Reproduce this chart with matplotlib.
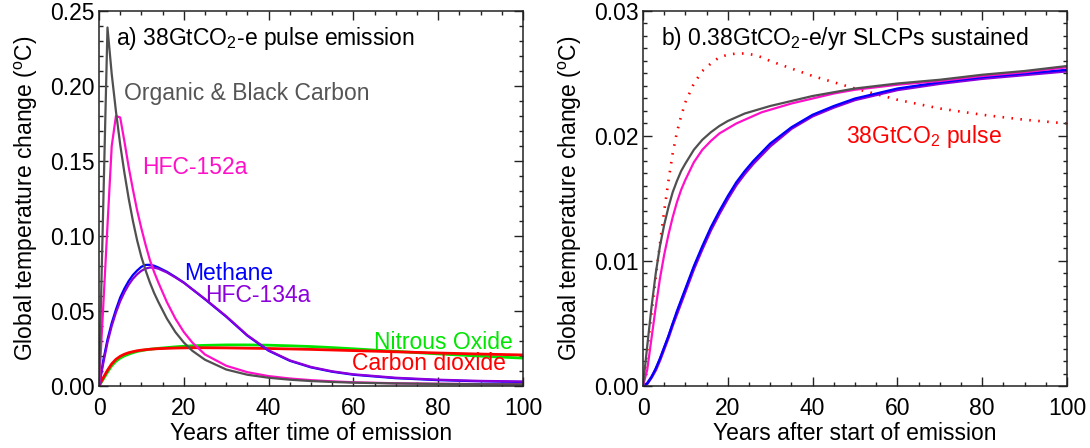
import matplotlib
matplotlib.use("Agg")
import matplotlib.pyplot as plt
from matplotlib.ticker import MultipleLocator, FormatStrFormatter

plt.rcParams['font.family'] = ['Liberation Sans', 'DejaVu Sans']
plt.rcParams['mathtext.default'] = 'regular'

# ---------------- Panel a: pulse emission ----------------
years_a = [0, 1, 2, 3, 4, 5, 6, 7, 8, 9, 10, 11, 12, 13, 14, 16, 18, 20, 22, 25,
           30, 35, 40, 45, 50, 55, 60, 70, 80, 90, 100]
obc_pulse = [0, 0.12, 0.239, 0.208, 0.183, 0.161, 0.142, 0.125, 0.110, 0.097, 0.086,
             0.077, 0.069, 0.062, 0.056, 0.045, 0.036, 0.029, 0.0235, 0.0175,
             0.011, 0.0075, 0.0055, 0.0042, 0.0033, 0.0027, 0.0022, 0.0017, 0.0014, 0.0012, 0.0011]
hfc152a_pulse = [0, 0.053, 0.107, 0.160, 0.180, 0.179, 0.163, 0.146, 0.131, 0.117, 0.105,
                 0.094, 0.084, 0.076, 0.069, 0.056, 0.045, 0.036, 0.029, 0.021,
                 0.0135, 0.0092, 0.0066, 0.005, 0.0039, 0.0031, 0.0025, 0.0018, 0.0015, 0.0013, 0.0012]
methane_pulse = [0, 0.017, 0.031, 0.042, 0.051, 0.059, 0.065, 0.070, 0.074, 0.077, 0.0795,
                 0.0807, 0.0808, 0.0802, 0.079, 0.0762, 0.0727, 0.069, 0.0645, 0.0578,
                 0.0462, 0.0335, 0.0235, 0.0168, 0.0124, 0.0095, 0.0075, 0.0052, 0.0039, 0.0031, 0.0027]
hfc134a_pulse = [0, 0.015, 0.029, 0.040, 0.049, 0.0565, 0.0625, 0.0675, 0.0715, 0.0745, 0.0768,
                 0.0783, 0.079, 0.0789, 0.0782, 0.0757, 0.0724, 0.0688, 0.0645, 0.058,
                 0.0465, 0.0338, 0.0238, 0.0171, 0.0127, 0.0098, 0.0078, 0.0055, 0.0042, 0.0034, 0.0030]
n2o_pulse = [0, 0.0045, 0.0092, 0.0135, 0.0165, 0.0186, 0.0201, 0.0212, 0.0222, 0.0230, 0.0236,
             0.0241, 0.0245, 0.0248, 0.0251, 0.0256, 0.0261, 0.0265, 0.0268, 0.0271,
             0.0274, 0.0274, 0.0272, 0.0268, 0.0263, 0.0256, 0.0248, 0.0231, 0.0214, 0.0199, 0.0186]
co2_pulse = [0, 0.0055, 0.0105, 0.0148, 0.0178, 0.0198, 0.0212, 0.0222, 0.0229, 0.0235, 0.0239,
             0.0242, 0.0245, 0.0247, 0.0249, 0.0251, 0.0253, 0.0254, 0.0255, 0.0255,
             0.0254, 0.0252, 0.0250, 0.0247, 0.0244, 0.0240, 0.0236, 0.0228, 0.0220, 0.0213, 0.0207]

# ---------------- Panel b: sustained emission ----------------
years_b = [0, 1, 2, 3, 4, 5, 6, 7, 8, 9, 10, 12, 14, 16, 18, 20, 22, 24, 26, 28, 30,
           35, 40, 45, 50, 60, 70, 80, 90, 100]
co2_pulse_b = [0, 0.0028, 0.0058, 0.0087, 0.0114, 0.0140, 0.0164, 0.0186, 0.0203, 0.0216, 0.0227,
               0.0242, 0.0252, 0.0258, 0.0263, 0.0265, 0.0266, 0.0266, 0.0265, 0.0263, 0.0260,
               0.0254, 0.0248, 0.0243, 0.0238, 0.0229, 0.0222, 0.0217, 0.0213, 0.0210]
obc_sust = [0, 0.0032, 0.0063, 0.0090, 0.0112, 0.0129, 0.0143, 0.0155, 0.0164, 0.0172, 0.0178,
            0.0189, 0.0197, 0.0203, 0.0208, 0.0212, 0.0215, 0.0218, 0.0220, 0.0222, 0.0224,
            0.0228, 0.0232, 0.0235, 0.0238, 0.0242, 0.0245, 0.0249, 0.0252, 0.0256]
hfc152a_sust = [0, 0.0013, 0.0038, 0.0063, 0.0086, 0.0105, 0.0121, 0.0135, 0.0147, 0.0157, 0.0165,
                0.0179, 0.0189, 0.0196, 0.0202, 0.0206, 0.0210, 0.0213, 0.0216, 0.0219, 0.0221,
                0.0226, 0.0230, 0.0234, 0.0237, 0.0241, 0.0244, 0.0248, 0.0251, 0.0255]
methane_sust = [0, 0.0002, 0.0007, 0.0014, 0.0022, 0.0031, 0.0040, 0.0050, 0.0060, 0.0069, 0.0078,
                0.0096, 0.0112, 0.0127, 0.0140, 0.0152, 0.0163, 0.0172, 0.0180, 0.0187, 0.0194,
                0.0207, 0.0217, 0.0224, 0.0230, 0.0238, 0.0243, 0.0247, 0.0250, 0.0253]
hfc134a_sust = [0, 0.0002, 0.0007, 0.0013, 0.0021, 0.0030, 0.0039, 0.0049, 0.0058, 0.0067, 0.0076,
                0.0094, 0.0110, 0.0125, 0.0138, 0.0150, 0.0161, 0.0170, 0.0178, 0.0185, 0.0192,
                0.0206, 0.0216, 0.0223, 0.0229, 0.0237, 0.0242, 0.0246, 0.0249, 0.0252]

GRAY = '#505050'
PINK = '#ff10c8'
BLUE = '#0000ff'
PURPLE = '#8c00dc'
GREEN = '#00e600'
RED = '#ff0000'

FS = 16.5
LW = 1.6

fig = plt.figure(figsize=(10.90, 4.48), dpi=100)
ax1 = fig.add_axes([99/1090, 62/448, 424/1090, 375/448])
ax2 = fig.add_axes([643/1090, 62/448, 424/1090, 375/448])

def style(ax, ymax, ymajor, yminor, xlabel):
    ax.set_xlim(0, 100)
    ax.set_ylim(0, ymax)
    ax.xaxis.set_major_locator(MultipleLocator(20))
    ax.xaxis.set_minor_locator(MultipleLocator(5))
    ax.yaxis.set_major_locator(MultipleLocator(ymajor))
    ax.yaxis.set_minor_locator(MultipleLocator(yminor))
    ax.yaxis.set_major_formatter(FormatStrFormatter('%.2f'))
    ax.tick_params(which='both', direction='in', top=True, right=True, colors='#222222',
                   labelcolor='black', labelsize=FS, width=1)
    ax.tick_params(axis='x', which='both', pad=8)
    ax.tick_params(axis='y', which='both', pad=3)
    ax.tick_params(which='major', length=6.3)
    ax.tick_params(which='minor', length=3)
    for s in ax.spines.values():
        s.set_linewidth(1.1)
        s.set_color('#222222')
    ax.set_xlabel(xlabel, fontsize=FS, labelpad=1)
    ax.set_ylabel('Global temperature change ($^{o}$C)', fontsize=FS, labelpad=7)

# Panel a
ax1.plot(years_a, n2o_pulse, color=GREEN, lw=LW + 0.4)
ax1.plot(years_a, co2_pulse, color=RED, lw=LW + 0.4)
ax1.plot(years_a, methane_pulse, color=BLUE, lw=LW)
ax1.plot(years_a, hfc134a_pulse, color=PURPLE, lw=LW)
ax1.plot(years_a, hfc152a_pulse, color=PINK, lw=LW)
ax1.plot(years_a, obc_pulse, color=GRAY, lw=LW)
style(ax1, 0.25, 0.05, 0.01, 'Years after time of emission')

ax1.text(0.040, 0.928, 'a) 38GtCO$_2$-e pulse emission', transform=ax1.transAxes,
         fontsize=FS, va='center', ha='left', color='black')
ax1.text(0.059, 0.781, 'Organic & Black Carbon', transform=ax1.transAxes,
         fontsize=FS, va='center', ha='left', color='#555555')
ax1.text(0.101, 0.584, 'HFC-152a', transform=ax1.transAxes,
         fontsize=FS, va='center', ha='left', color=PINK)
ax1.text(0.200, 0.299, 'Methane', transform=ax1.transAxes,
         fontsize=FS, va='center', ha='left', color=BLUE)
ax1.text(0.250, 0.240, 'HFC-134a', transform=ax1.transAxes,
         fontsize=FS, va='center', ha='left', color=PURPLE)
ax1.text(0.975, 0.117, 'Nitrous Oxide', transform=ax1.transAxes,
         fontsize=FS, va='center', ha='right', color=GREEN)
ax1.text(0.960, 0.059, 'Carbon dioxide', transform=ax1.transAxes,
         fontsize=FS, va='center', ha='right', color=RED)

# Panel b
ax2.plot(years_b, co2_pulse_b, color=RED, lw=1.9, linestyle=(0, (0.6, 2.8)))
ax2.plot(years_b, hfc134a_sust, color=PURPLE, lw=LW + 0.6)
ax2.plot(years_b, methane_sust, color=BLUE, lw=LW)
ax2.plot(years_b, hfc152a_sust, color=PINK, lw=LW)
ax2.plot(years_b, obc_sust, color=GRAY, lw=LW)
style(ax2, 0.03, 0.01, 0.001, 'Years after start of emission')

ax2.text(0.042, 0.928, 'b) 0.38GtCO$_2$-e/yr SLCPs sustained', transform=ax2.transAxes,
         fontsize=FS, va='center', ha='left', color='black')
ax2.text(0.479, 0.664, '38GtCO$_2$ pulse', transform=ax2.transAxes,
         fontsize=FS, va='center', ha='left', color=RED)

fig.savefig('out.png', dpi=100)
